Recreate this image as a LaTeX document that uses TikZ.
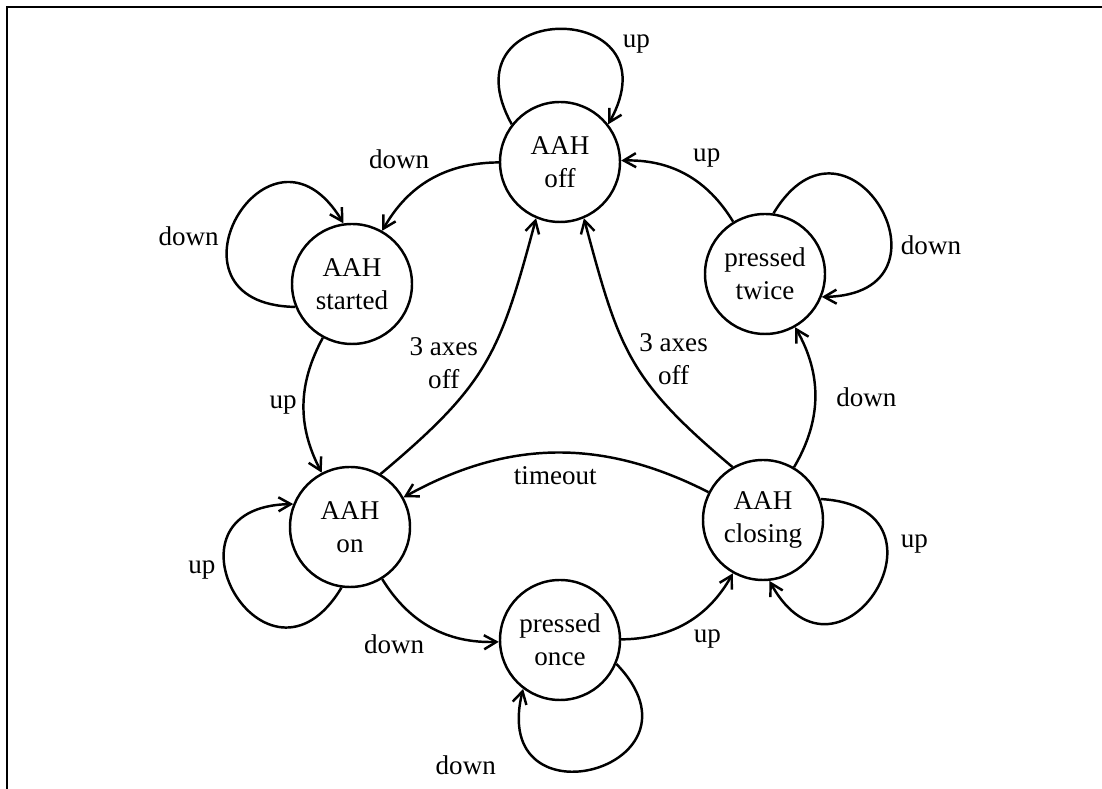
\documentclass[tikz,border=0pt]{standalone}
\usepackage{fontspec}
\setmainfont{Liberation Serif}
\usetikzlibrary{arrows.meta}

\begin{document}
\begin{tikzpicture}[x=0.2mm,y=0.2mm,>={Straight Barb[length=7pt,width=8pt]},
  line width=1.4pt,font=\fontsize{15.4}{19}\selectfont,
  state/.style={draw, circle, minimum size=2.4cm, inner sep=0pt, align=center},
  lbl/.style={align=center}]
\useasboundingbox (0,0) rectangle (1102,789);
\draw[line width=1.6pt] (7,0) -- (7,782) -- (1102,782);
% states
\node[state] (off) at (560,627) {AAH\\off};
\node[state] (started) at (352,505) {AAH\\started};
\node[state] (twice) at (765,515) {pressed\\twice};
\node[state] (on) at (350,262) {AAH\\on};
\node[state] (closing) at (763,269) {AAH\\closing};
\node[state] (once) at (560,149) {pressed\\once};
% outer ring
\draw[->] (off) to[bend right=30] node[pos=.45,above left] {down} (started);
\draw[->] (started) to[bend right=28] node[pos=.5,left] {up} (on);
\draw[->] (on) to[bend right=30] node[pos=.5,below left] {down} (once);
\draw[->] (once) to[bend right=30] node[pos=.5,below right] {up} (closing);
\draw[->] (closing) to[bend right=30] node[right=8pt] {down} (twice);
\draw[->] (twice) to[bend right=30] node[pos=.5,above right] {up} (off);
% inner edges
\draw[->] (on.60) to[out=40,in=-105,looseness=1.2] node[pos=.5,left,lbl] {3 axes\\off} (off.247);
\draw[->] (closing.120) to[out=140,in=-75,looseness=1.2] node[pos=.5,right,lbl] {3 axes\\off} (off.293);
\draw[->] (closing) to[bend right=28] node[pos=.5,below=4pt] {timeout} (on);
% self loops
\draw[->] (off.142) .. controls +(119:145) and +(61:145) .. node[pos=.7,right=6pt] {up} (off.38);
\draw[->] (started.202) .. controls +(179:145) and +(121:145) .. node[pos=.42,left=2pt] {down} (started.98);
\draw[->] (twice.82) .. controls +(59:145) and +(1:145) .. node[pos=.66,right=2pt] {down} (twice.-22);
\draw[->] (on.262) .. controls +(239:145) and +(181:145) .. node[pos=.6,left=2pt] {up} (on.158);
\draw[->] (closing.20) .. controls +(-3:145) and +(-61:145) .. node[pos=.3,right=4pt] {up} (closing.-84);
\draw[->] (once.-23) .. controls +(-46:145) and +(-104:145) .. node[pos=.7,left=25pt] {down} (once.-127);
\end{tikzpicture}
\end{document}
